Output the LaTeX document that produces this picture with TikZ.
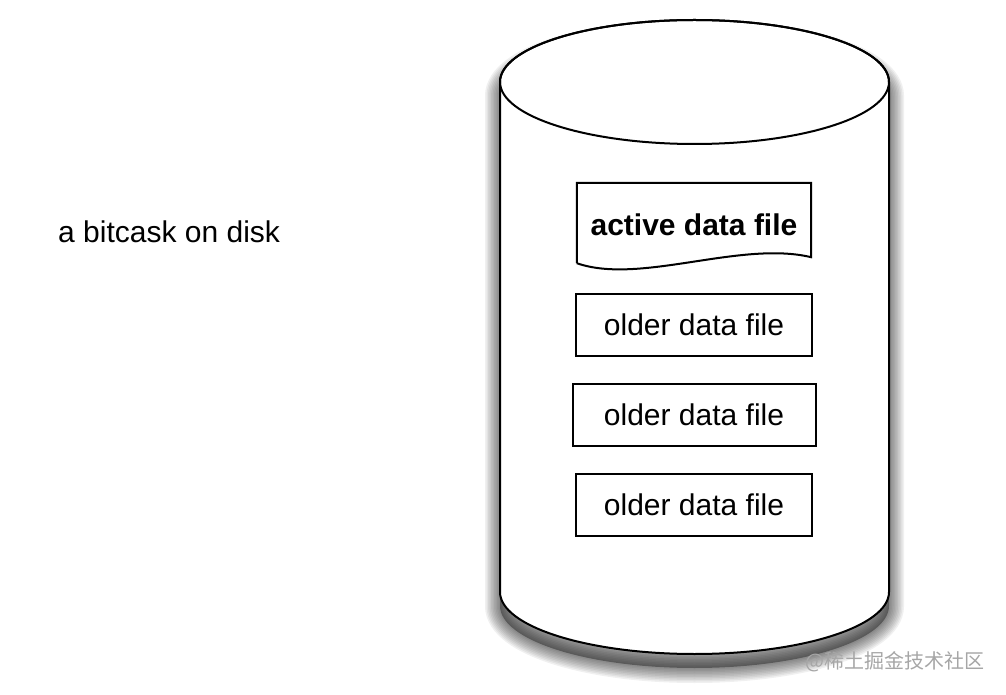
\documentclass[tikz,border=0pt]{standalone}
\usepackage{fontspec}
\setmainfont{Liberation Sans}
\newfontfamily\cjkfont{Noto Sans CJK SC}
\usetikzlibrary{positioning}

\begin{document}
\begin{tikzpicture}[
        x=1pt, y=1pt,
        node distance=26pt,
        every node/.style={font=\fontsize{30}{36}\selectfont},
        datafile/.style={rectangle, draw, line width=2pt, minimum width=236pt, minimum height=62pt, inner sep=0pt},
        disk body/.style={insert path={(500,612) -- (500,102) arc[start angle=180, end angle=360, x radius=194.5, y radius=62] -- (889,612) arc[start angle=0, end angle=180, x radius=194.5, y radius=62] -- cycle}}
    ]
    \useasboundingbox (0,0) rectangle (1006,694);

    % Shadow of the disk
    \foreach \w in {3,6,...,30}
        \draw[black, opacity=0.06, line width=\w pt, shift={(0,-14)}, disk body];
    \fill[black, opacity=0.35, shift={(0,-14)}, disk body];

    % Disk
    \filldraw[fill=white, line width=2pt, disk body];
    \draw[line width=2pt] (694.5,612) ellipse[x radius=194.5, y radius=62];

    % Caption
    \node[anchor=west, inner sep=0pt] (caption) at (58,462) {a bitcask on disk};

    % Active data file
    \node[minimum width=234pt, minimum height=84pt, inner sep=0pt, font=\bfseries\fontsize{30}{36}\selectfont] (active) at (694,469) {active data file};
    \draw[line width=2pt] ([yshift=4pt]active.south west) -- (active.north west) -- (active.north east) -- ([yshift=10pt]active.south east)
        .. controls ([xshift=-71pt, yshift=27pt]active.south east) and ([xshift=63pt, yshift=-18pt]active.south west) .. ([yshift=4pt]active.south west);

    % Older data files
    \node[datafile, below=of active] (older1) {older data file};
    \node[datafile, below=of older1, minimum width=243pt] (older2) {older data file};
    \node[datafile, below=of older2] (older3) {older data file};

    % Watermark
    \node[anchor=east, inner sep=0pt, text=black!35, font=\cjkfont\fontsize{20}{24}\selectfont] (mark) at (985,32) {@稀土掘金技术社区};

\end{tikzpicture}
\end{document}
